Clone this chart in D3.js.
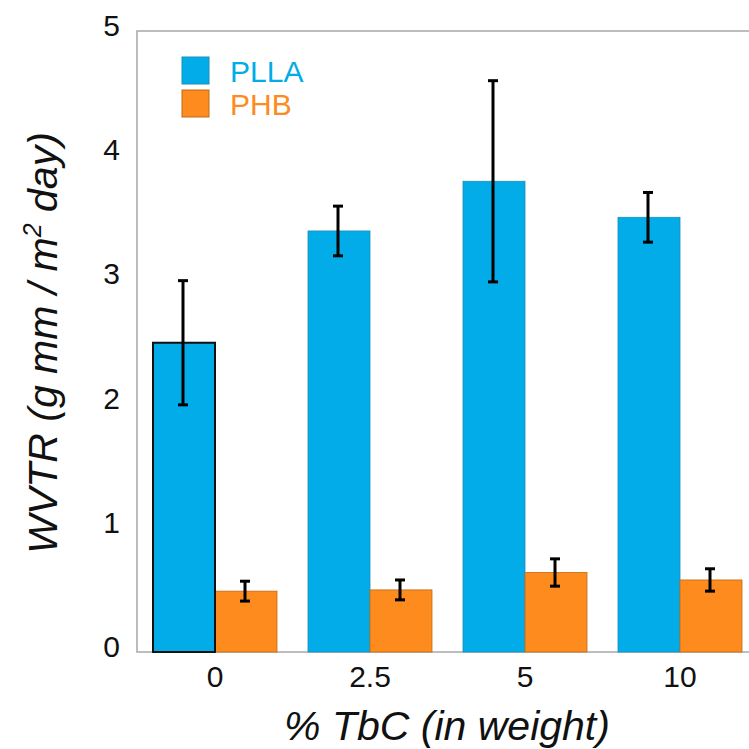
<!DOCTYPE html>
<html lang="en">
<head>
<meta charset="UTF-8">
<title>WVTR chart</title>
<script src="https://cdn.jsdelivr.net/npm/d3@7"></script>
<style>
  body { margin: 0; background: #fff; }
  svg { font-family: "Liberation Sans", Arial, sans-serif; }
</style>
</head>
<body>
<svg id="chart" width="749" height="749"></svg>
<script>
// data
var categories = ["0", "2.5", "5", "10"];
var series = ["PLLA", "PHB"];
var pllaValues = [2.49, 3.39, 3.79, 3.50];
var pllaErrors = [0.50, 0.20, 0.81, 0.20];
var phbValues = [0.49, 0.50, 0.64, 0.58];
var phbErrors = [0.08, 0.08, 0.11, 0.09];
var yTicks = [0, 1, 2, 3, 4, 5];

var colors = { PLLA: "#02ace8", PHB: "#fd8b1d" };
var strokes = { PLLA: "#1b8fb8", PHB: "#c06a15" };

var svg = d3.select("#chart");
var mLeft = 137, mRight = 762, mTop = 31, mBottom = 652;

var y = d3.scaleLinear().domain([0, 5]).range([mBottom, mTop]);
var x0 = d3.scaleBand().domain(categories).range([137.5, 757.5]).paddingInner(0.2).paddingOuter(0.1);
var x1 = d3.scaleBand().domain(series).range([0, x0.bandwidth()]);

// frame
svg.append("path")
  .attr("d", "M" + mRight + "," + mTop + "H" + mLeft + "V" + mBottom + "H" + mRight)
  .attr("fill", "none").attr("stroke", "#a8a8a8").attr("stroke-width", 1.5);

var rows = [];
categories.forEach(function (c, i) {
  rows.push({ cat: c, s: "PLLA", v: pllaValues[i], e: pllaErrors[i], i: i });
  rows.push({ cat: c, s: "PHB", v: phbValues[i], e: phbErrors[i], i: i });
});

svg.selectAll("rect.bar").data(rows).enter().append("rect")
  .attr("class", "bar")
  .attr("x", function (d) { return x0(d.cat) + x1(d.s); })
  .attr("y", function (d) { return y(d.v); })
  .attr("width", x1.bandwidth())
  .attr("height", function (d) { return y(0) - y(d.v); })
  .attr("fill", function (d) { return colors[d.s]; })
  .attr("stroke", function (d) { return strokes[d.s]; })
  .attr("stroke-width", 0.8);

// the first PLLA bar has a black outline in the original
svg.append("rect")
  .attr("x", x0("0") + x1("PLLA")).attr("y", y(pllaValues[0]))
  .attr("width", x1.bandwidth()).attr("height", y(0) - y(pllaValues[0]))
  .attr("fill", "none").attr("stroke", "#111").attr("stroke-width", 2);

// error bars
var eb = svg.selectAll("g.err").data(rows).enter().append("g").attr("class", "err")
  .attr("stroke", "#000").attr("stroke-width", 3);
eb.each(function (d) {
  var cx = x0(d.cat) + x1(d.s) + x1.bandwidth() / 2 - 1;
  var g = d3.select(this);
  g.append("line").attr("x1", cx).attr("x2", cx).attr("y1", y(d.v + d.e)).attr("y2", y(d.v - d.e));
  g.append("line").attr("x1", cx - 5).attr("x2", cx + 5).attr("y1", y(d.v + d.e)).attr("y2", y(d.v + d.e));
  g.append("line").attr("x1", cx - 5).attr("x2", cx + 5).attr("y1", y(d.v - d.e)).attr("y2", y(d.v - d.e));
});

// y tick labels
svg.selectAll("text.yt").data(yTicks).enter().append("text")
  .attr("class", "yt")
  .attr("x", 120).attr("y", function (d) { return y(d) + 5; })
  .attr("text-anchor", "end").attr("font-size", 30).attr("fill", "#111")
  .text(function (d) { return d; });

// x tick labels
svg.selectAll("text.xt").data(categories).enter().append("text")
  .attr("class", "xt")
  .attr("x", function (d) { return x0(d) + x0.bandwidth() / 2; })
  .attr("y", 687)
  .attr("text-anchor", "middle").attr("font-size", 30).attr("fill", "#111")
  .text(function (d) { return d; });

// axis titles
svg.append("text")
  .attr("x", 447).attr("y", 740)
  .attr("text-anchor", "middle").attr("font-size", 41).attr("font-style", "italic").attr("fill", "#111")
  .text("% TbC (in weight)");

var yl = svg.append("text")
  .attr("transform", "translate(57,343) rotate(-90)")
  .attr("text-anchor", "middle").attr("font-size", 41).attr("font-style", "italic").attr("fill", "#111");
yl.append("tspan").text("WVTR (g mm / m");
yl.append("tspan").attr("dy", -16).attr("font-size", 25).text("2");
yl.append("tspan").attr("dy", 16).text(" day)");

// legend
var legend = svg.selectAll("g.leg").data(series).enter().append("g")
  .attr("class", "leg")
  .attr("transform", function (d, i) { return "translate(182," + (57 + i * 33) + ")"; });
legend.append("rect").attr("width", 27).attr("height", 27)
  .attr("fill", function (d) { return colors[d]; })
  .attr("stroke", function (d) { return strokes[d]; }).attr("stroke-width", 1);
legend.append("text").attr("x", 48).attr("y", 25)
  .attr("font-size", 30).attr("fill", function (d) { return colors[d]; })
  .text(function (d) { return d; });
</script>
</body>
</html>
